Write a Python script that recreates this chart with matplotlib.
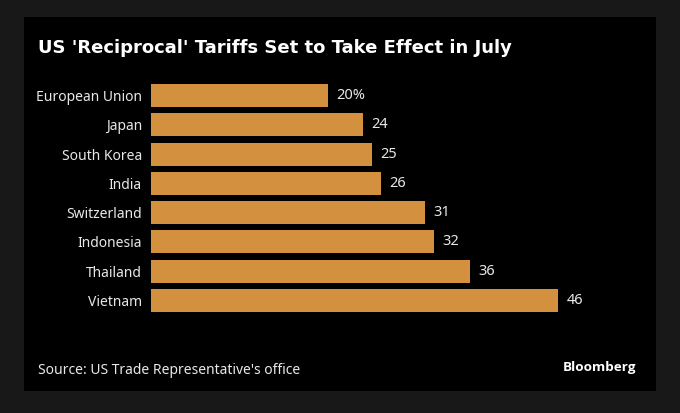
import matplotlib
matplotlib.use("Agg")
from matplotlib import pyplot as plt
from matplotlib.patches import Rectangle

# data
countries = ["European Union", "Japan", "South Korea", "India",
             "Switzerland", "Indonesia", "Thailand", "Vietnam"]
tariffs = [20, 24, 25, 26, 31, 32, 36, 46]
value_labels = ["20%", "24", "25", "26", "31", "32", "36", "46"]

title = "US 'Reciprocal' Tariffs Set to Take Effect in July"
source = "Source: US Trade Representative's office"

bar_color = "#D3913F"
text_color = "#E8E8E8"
W, H = 680, 413

plt.rcParams["font.family"] = ["Noto Sans", "DejaVu Sans"]

fig = plt.figure(figsize=(W / 100, H / 100), dpi=100, facecolor="#181818")
# black inner panel
fig.patches.append(Rectangle((24 / W, (H - 391) / H), 632 / W, 374 / H,
                             transform=fig.transFigure, facecolor="black",
                             edgecolor="none", zorder=-5))

ax_left, ax_right = 151, 151 + 50 * 8.85
ax_top, ax_bot = 80.9, 315.1
ax = fig.add_axes([ax_left / W, (H - ax_bot) / H,
                   (ax_right - ax_left) / W, (ax_bot - ax_top) / H])
ax.set_facecolor("none")
ax.set_zorder(2)

ypos = list(range(len(countries)))
ax.barh(ypos, tariffs, height=0.785, color=bar_color, edgecolor="none")
ax.set_xlim(0, 50)
ax.set_ylim(len(countries) - 0.5, -0.5)
ax.set_yticks(ypos)
ax.set_yticklabels(countries, color=text_color, fontsize=10)
ax.tick_params(axis="y", length=0, pad=6.5)
ax.set_xticks([])
for s in ax.spines.values():
    s.set_visible(False)

for y, v, lab in zip(ypos, tariffs, value_labels):
    ax.annotate(lab, (v, y), xytext=(6, 0), textcoords="offset points",
                va="center", ha="left", color=text_color, fontsize=10.5)

fig.text(38 / W, (H - 48) / H, title, color="white", fontsize=13,
         fontweight="bold", va="center", ha="left", family="DejaVu Sans")
fig.text(38 / W, (H - 370) / H, source, color=text_color, fontsize=10,
         va="center", ha="left")
fig.text(636 / W, (H - 368) / H, "Bloomberg", color="white", fontsize=9.7,
         fontweight="bold", va="center", ha="right", family="Open Sans")

fig.savefig("out.png", dpi=100, facecolor=fig.get_facecolor())
